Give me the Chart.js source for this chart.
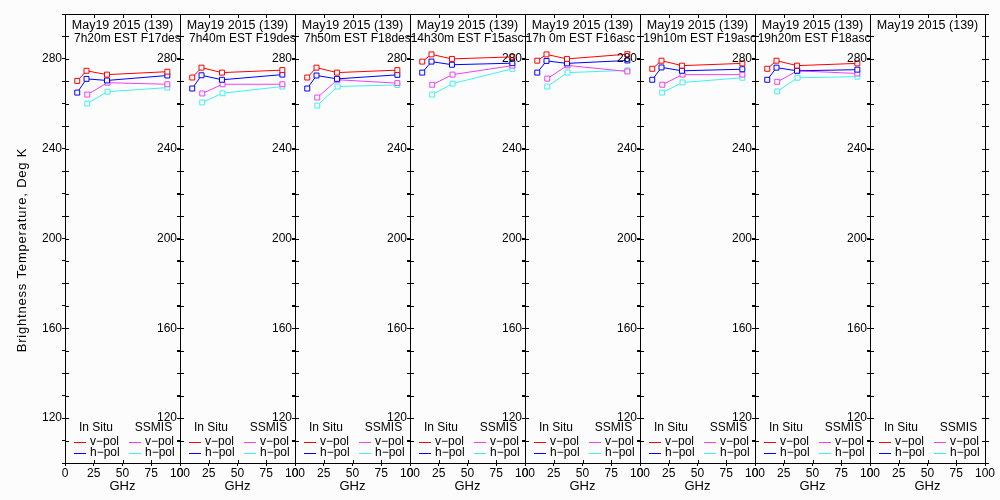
<!DOCTYPE html>
<html>
<head>
<meta charset="utf-8">
<script src="https://cdn.jsdelivr.net/npm/chart.js@4.4.1/dist/chart.umd.min.js"></script>
<style>
  body { margin: 0; background: #fcfcfc; }
  #wrap { position: relative; width: 1000px; height: 500px; }
  #wrap canvas { position: absolute; left: 0; top: 0; }
</style>
</head>
<body>
<div id="wrap"></div>
<script>
// frequencies (GHz)
var inSituGHz = [10.65, 18.7, 36.5, 89.0];
var ssmisGHz = [19.35, 37.0, 89.0];

// panel titles
var dates = ["May19 2015 (139)", "May19 2015 (139)", "May19 2015 (139)", "May19 2015 (139)",
             "May19 2015 (139)", "May19 2015 (139)", "May19 2015 (139)", "May19 2015 (139)"];
var passes = ["7h20m EST F17desc", "7h40m EST F19desc", "7h50m EST F18desc", "14h30m EST F15asc",
              "17h 0m EST F16asc", "19h10m EST F19asc", "19h20m EST F18asc", ""];

// brightness temperatures, Deg K (one row per panel)
var inSituV = [
  [270.2, 274.7, 273.0, 274.3],
  [271.7, 276.1, 273.9, 275.0],
  [271.7, 276.1, 273.9, 275.0],
  [278.8, 282.0, 280.0, 280.9],
  [279.2, 282.0, 280.0, 282.1],
  [275.6, 279.2, 277.0, 278.0],
  [275.6, 279.2, 277.0, 278.0],
  []
];
var inSituH = [
  [265.0, 271.1, 270.4, 272.6],
  [266.8, 272.7, 270.7, 273.0],
  [266.8, 272.6, 271.1, 272.9],
  [273.9, 278.8, 277.4, 278.1],
  [273.9, 279.1, 278.0, 279.3],
  [270.7, 276.2, 274.7, 275.4],
  [270.7, 276.1, 274.7, 275.2],
  []
];
var ssmisV = [
  [264.1, 269.4, 268.7],
  [264.6, 268.7, 268.7],
  [262.8, 270.7, 269.2],
  [268.5, 273.0, 277.0],
  [271.2, 277.1, 274.4],
  [268.5, 273.0, 273.0],
  [269.8, 274.7, 273.5],
  []
];
var ssmisH = [
  [260.1, 265.4, 267.2],
  [260.6, 264.7, 267.7],
  [259.2, 267.7, 268.4],
  [264.1, 269.0, 275.6],
  [267.7, 273.9, 274.9],
  [265.0, 269.5, 271.6],
  [265.5, 271.6, 272.1],
  []
];

var yLabels = [120, 160, 200, 240, 280];

// layout / style constants
var FONT = "'Liberation Sans', Arial, sans-serif";
var RED = '#ff0000', BLUE = '#0000ff', MAG = '#f040f0', CYAN = '#40f0f0';
var BG = '#fcfcfc';
var panelLeft0 = 65, panelW = 115;
var passIndent = [9, 9, 9, 0.7, 0.7, 3.3, 2.7, 0];

function pts(xs, ys) {
  var out = [];
  for (var k = 0; k < ys.length; k++) out.push({x: xs[k], y: ys[k]});
  return out;
}

function series(label, color, data) {
  return {
    label: label,
    data: data,
    borderColor: color,
    borderWidth: 1,
    pointStyle: 'rect',
    pointRadius: 3.5,
    pointBorderWidth: 1,
    pointBorderColor: color,
    pointBackgroundColor: BG,
    tension: 0
  };
}

// frame, inner ticks, titles and legend for each panel
var panelPlugin = {
  id: 'panel',
  afterDraw: function(chart) {
    var o = chart.options.plugins.panel;
    var a = chart.chartArea, ctx = chart.ctx;
    var xs = chart.scales.x, ys = chart.scales.y;
    ctx.save();
    ctx.strokeStyle = '#000';
    ctx.lineWidth = 1;
    ctx.beginPath();
    ctx.moveTo(a.left + 0.5, a.top + 0.5);
    ctx.lineTo(a.right + 0.5, a.top + 0.5);
    ctx.lineTo(a.right + 0.5, a.bottom + 0.5);
    ys.ticks.forEach(function(t) {
      var y = Math.round(ys.getPixelForValue(t.value)) + 0.5;
      ctx.moveTo(a.left, y); ctx.lineTo(a.left + 4, y);
      ctx.moveTo(a.right - 3, y); ctx.lineTo(a.right + (o.last ? 4 : 0), y);
    });
    xs.ticks.forEach(function(t) {
      var x = Math.round(xs.getPixelForValue(t.value)) + 0.5;
      ctx.moveTo(x, a.top); ctx.lineTo(x, a.top + 4);
      ctx.moveTo(x, a.bottom - 3); ctx.lineTo(x, a.bottom);
    });
    ctx.stroke();

    // titles, clipped to the panel
    ctx.save();
    ctx.beginPath();
    ctx.rect(a.left + 1, a.top, a.right - a.left - 1, a.bottom - a.top);
    ctx.clip();
    ctx.fillStyle = '#000';
    ctx.font = '12.5px ' + FONT;
    ctx.textBaseline = 'alphabetic';
    ctx.textAlign = 'center';
    ctx.fillText(o.date, (a.left + a.right) / 2, 29);
    ctx.font = '12px ' + FONT;
    ctx.textAlign = 'left';
    ctx.fillText(o.pass, a.left + o.indent, 41.5);
    ctx.restore();

    // legend
    var L = a.left;
    ctx.font = '12px ' + FONT;
    ctx.fillStyle = '#000';
    ctx.textBaseline = 'middle';
    ctx.textAlign = 'center';
    ctx.fillText('In Situ', L + 31, 428);
    ctx.fillText('SSMIS', L + 88.5, 428);
    ctx.textAlign = 'left';
    var rows = [[RED, MAG, 'v\u2212pol', 441.5], [BLUE, CYAN, 'h\u2212pol', 452.5]];
    rows.forEach(function(r) {
      var y = Math.round(r[3]) + 0.5;
      ctx.strokeStyle = r[0];
      ctx.beginPath(); ctx.moveTo(L + 9, y); ctx.lineTo(L + 21, y); ctx.stroke();
      ctx.strokeStyle = r[1];
      ctx.beginPath(); ctx.moveTo(L + 64, y); ctx.lineTo(L + 76, y); ctx.stroke();
      ctx.fillText(r[2], L + 25, r[3]);
      ctx.fillText(r[2], L + 80, r[3]);
    });

    // y axis title on first panel
    if (o.first) {
      ctx.translate(22, 250);
      ctx.rotate(-Math.PI / 2);
      ctx.font = '13px ' + FONT;
      ctx.letterSpacing = '0.8px';
      ctx.textAlign = 'center';
      ctx.fillText('Brightness Temperature, Deg K', 0, 0);
    }
    ctx.restore();
  }
};

var wrap = document.getElementById('wrap');

for (var i = 0; i < dates.length; i++) {
  var cv = document.createElement('canvas');
  cv.width = 1000;
  cv.height = 500;
  wrap.appendChild(cv);

  var left = panelLeft0 + i * panelW;
  var yW = (i === 0) ? 65 : 40;

  new Chart(cv, {
    type: 'line',
    data: {
      datasets: [
        series('In Situ v-pol', RED, pts(inSituGHz, inSituV[i])),
        series('In Situ h-pol', BLUE, pts(inSituGHz, inSituH[i])),
        series('SSMIS v-pol', MAG, pts(ssmisGHz, ssmisV[i])),
        series('SSMIS h-pol', CYAN, pts(ssmisGHz, ssmisH[i]))
      ]
    },
    plugins: [panelPlugin],
    options: {
      responsive: false,
      animation: false,
      devicePixelRatio: 1,
      events: [],
      layout: {
        padding: { left: left - yW, right: 1000 - (left + panelW), top: 14, bottom: 0 }
      },
      plugins: {
        legend: { display: false },
        tooltip: { enabled: false },
        panel: {
          date: dates[i], pass: passes[i], indent: passIndent[i],
          first: i === 0, last: i === dates.length - 1
        }
      },
      scales: {
        x: {
          type: 'linear',
          min: 0,
          max: 100,
          afterFit: function(s) { s.height = 37; },
          border: { color: '#000', width: 1 },
          grid: { drawOnChartArea: false, tickLength: 3, color: '#000' },
          ticks: {
            stepSize: 25,
            autoSkip: false,
            maxRotation: 0,
            padding: 0,
            color: '#000',
            font: { family: FONT, size: 12 }
          },
          title: {
            display: true,
            text: 'GHz',
            color: '#000',
            font: { family: FONT, size: 13 },
            padding: { top: 0, bottom: 6 }
          }
        },
        y: {
          type: 'linear',
          min: 100,
          max: 300,
          afterFit: (function(w) { return function(s) { s.width = w; }; })(yW),
          border: { color: '#000', width: 1 },
          grid: { drawOnChartArea: false, tickLength: 3, color: '#000' },
          ticks: {
            stepSize: 10,
            autoSkip: false,
            padding: 0,
            color: '#000',
            font: { family: FONT, size: 12 },
            callback: function(v) { return yLabels.indexOf(v) >= 0 ? String(v) : ''; }
          }
        }
      }
    }
  });
}
</script>
</body>
</html>
